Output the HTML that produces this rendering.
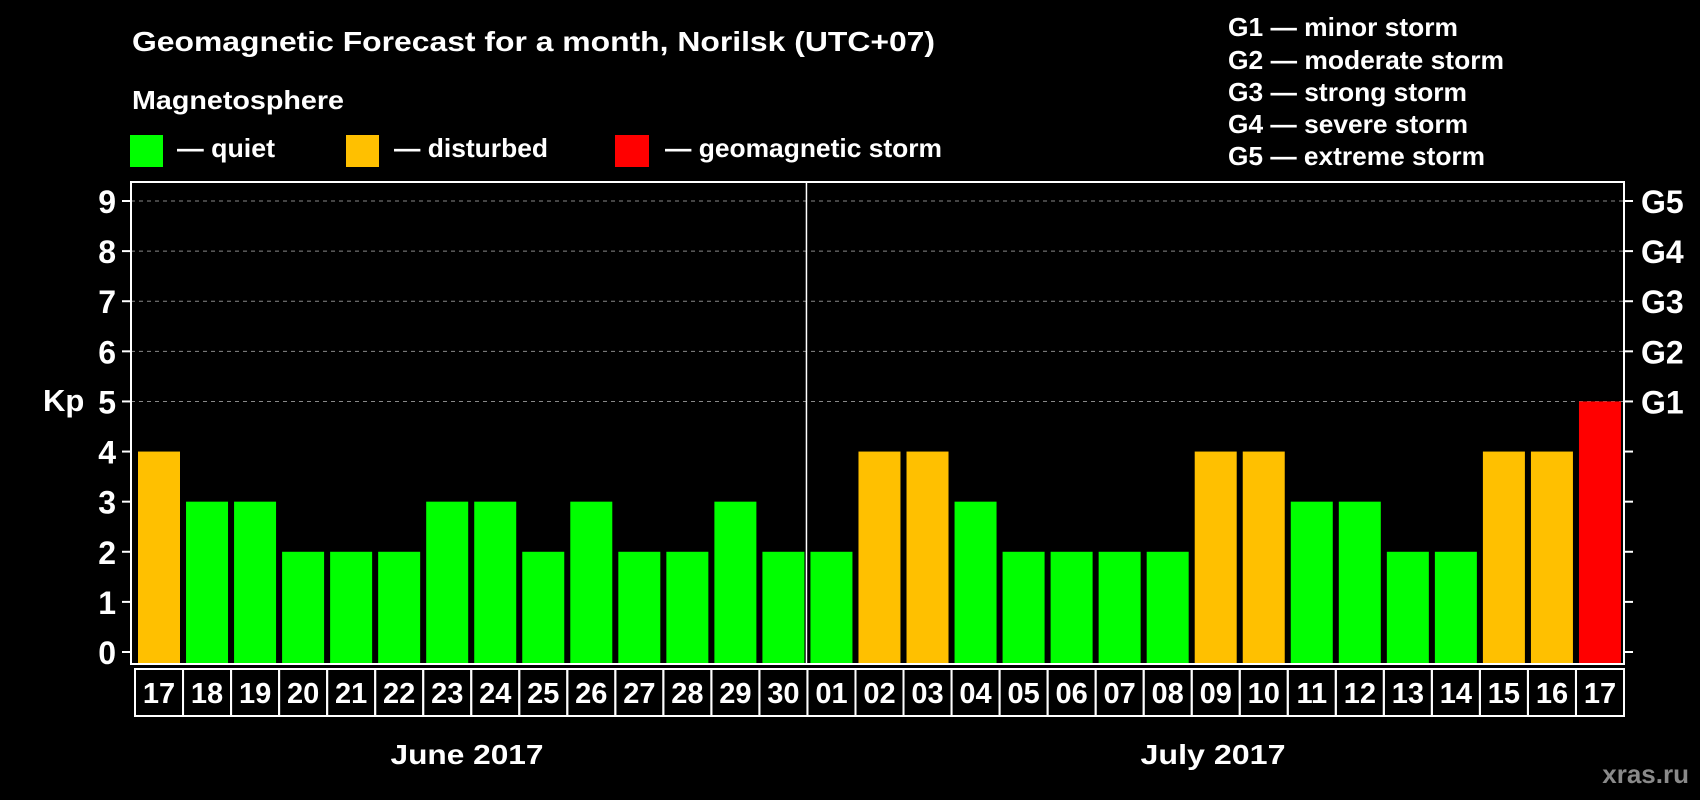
<!DOCTYPE html>
<html><head><meta charset="utf-8"><style>
html,body{margin:0;padding:0;background:#000;}
svg{display:block;}
text{font-family:"Liberation Sans",Arial,sans-serif;font-weight:bold;fill:#fff;}
</style></head><body>
<svg id="chart" width="1700" height="800" viewBox="0 0 1700 800">
<rect x="0" y="0" width="1700" height="800" fill="#000"/>
<text x="132" y="51" font-size="28" textLength="803" lengthAdjust="spacingAndGlyphs">Geomagnetic Forecast for a month, Norilsk (UTC+07)</text>
<text x="132" y="109" font-size="26" textLength="212" lengthAdjust="spacingAndGlyphs">Magnetosphere</text>
<g>
<rect x="130" y="135" width="33" height="32" fill="#00ff00"/>
<text x="177" y="157" font-size="26" textLength="98" lengthAdjust="spacingAndGlyphs">— quiet</text>
</g>
<g>
<rect x="346" y="135" width="33" height="32" fill="#ffc000"/>
<text x="394" y="157" font-size="26" textLength="154" lengthAdjust="spacingAndGlyphs">— disturbed</text>
</g>
<g>
<rect x="615" y="135" width="34" height="32" fill="#ff0000"/>
<text x="665" y="157" font-size="26" textLength="277" lengthAdjust="spacingAndGlyphs">— geomagnetic storm</text>
</g>
<g>
<text x="1228" y="36" font-size="26" textLength="230" lengthAdjust="spacingAndGlyphs">G1 — minor storm</text>
<text x="1228" y="69" font-size="26" textLength="276" lengthAdjust="spacingAndGlyphs">G2 — moderate storm</text>
<text x="1228" y="101" font-size="26" textLength="239" lengthAdjust="spacingAndGlyphs">G3 — strong storm</text>
<text x="1228" y="133" font-size="26" textLength="240" lengthAdjust="spacingAndGlyphs">G4 — severe storm</text>
<text x="1228" y="165" font-size="26" textLength="257" lengthAdjust="spacingAndGlyphs">G5 — extreme storm</text>
</g>
<text x="43" y="411" font-size="31">Kp</text>
<text x="467" y="764" font-size="28" text-anchor="middle" textLength="153" lengthAdjust="spacingAndGlyphs">June 2017</text>
<text x="1213" y="764" font-size="28" text-anchor="middle" textLength="145" lengthAdjust="spacingAndGlyphs">July 2017</text>
<text x="1689" y="783" font-size="26" text-anchor="end" style="fill:#8a8a8a">xras.ru</text>
<g id="plot"></g>
</svg>
<script>
const days = ["17","18","19","20","21","22","23","24","25","26","27","28","29","30","01","02","03","04","05","06","07","08","09","10","11","12","13","14","15","16","17"];
const kp = [4,3,3,2,2,2,3,3,2,3,2,2,3,2,2,4,4,3,2,2,2,2,4,4,3,3,2,2,4,4,5];
const yTicks = [0,1,2,3,4,5,6,7,8,9];
const gLabels = ["G1","G2","G3","G4","G5"];
const gLevels = [5,6,7,8,9];

const NS = "http://www.w3.org/2000/svg";
const plot = document.getElementById('plot');
const L = 131, R = 1624, T = 182, B = 664;
const y0 = 652, unit = (652 - 201) / 9;
function yScale(v){ return y0 - v * unit; }
const slot = (R - L - 4) / days.length;
function xScale(i){ return L + 4 + i * slot; }
function mk(tag, attrs){ const e = document.createElementNS(NS, tag); for (const k in attrs) e.setAttribute(k, attrs[k]); plot.appendChild(e); return e; }
function color(v){ return v >= 5 ? "#ff0000" : (v >= 4 ? "#ffc000" : "#00ff00"); }

gLevels.forEach(function(v){
  const g = mk('line', {x1:L, x2:R, y1:yScale(v), y2:yScale(v), stroke:"#888", "stroke-width":1, "stroke-dasharray":"4,4"});
  
  
});
yTicks.forEach(function(v){
  const y = yScale(v);
  const t1 = mk('line', {x1:122, x2:L, y1:y, y2:y, stroke:"#fff", "stroke-width":2});
  
  
  const t2 = mk('line', {x1:R, x2:1633, y1:y, y2:y, stroke:"#fff", "stroke-width":2});
  
  
  const tx = mk('text', {x:116, y:y + 12, "font-size":32, "text-anchor":"end"});
  tx.textContent = v;
  
  
});
gLabels.forEach(function(g, i){
  const tx = mk('text', {x:1641, y:yScale(gLevels[i]) + 12, "font-size":32});
  tx.textContent = g;
  
  
});
kp.forEach(function(v, i){
  const x = xScale(i) + 3;
  const b = mk('rect', {x:x, y:yScale(v), width:42, height:B - yScale(v), fill:color(v)});
  
  
});
const fr = mk('rect', {x:L, y:T, width:R - L, height:B - T, fill:"none", stroke:"#fff", "stroke-width":2});


const sepX = xScale(14) - 1;
const sep = mk('line', {x1:sepX, x2:sepX, y1:T, y2:B, stroke:"#fff", "stroke-width":1.5});


days.forEach(function(d, i){
  const x = L + 4 + i * slot;
  const c = mk('rect', {x:x, y:669, width:slot, height:47, fill:"none", stroke:"#fff", "stroke-width":2});
  
  
  const t = mk('text', {x:x + slot / 2, y:703, "font-size":29, "text-anchor":"middle"});
  t.textContent = d;
  
  
});
</script>
</body></html>
